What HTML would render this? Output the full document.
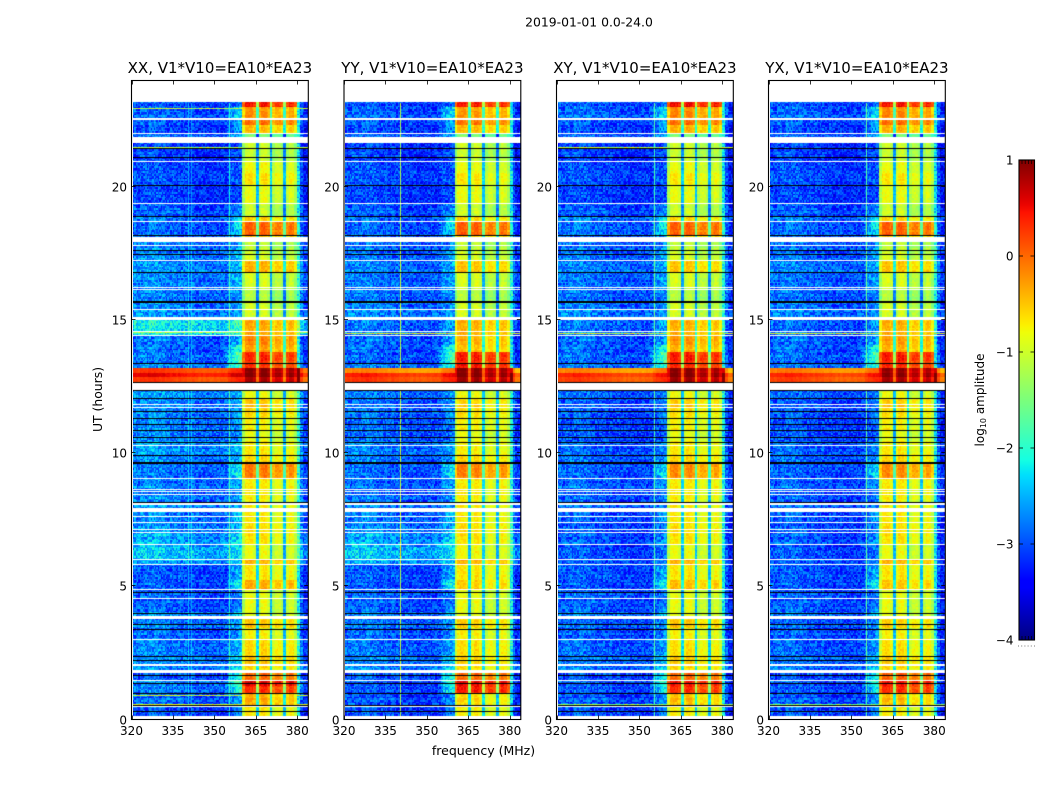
<!DOCTYPE html>
<html lang="en">
<head>
<meta charset="utf-8">
<title>2019-01-01 0.0-24.0</title>
<style>
html,body{margin:0;padding:0;background:#fff;}
#chart{position:relative;width:1050px;height:800px;overflow:hidden;background:#fff;}
#chart canvas{position:absolute;display:block;}
#overlay{position:absolute;left:0;top:0;}
text{font-family:"DejaVu Sans","Liberation Sans",sans-serif;fill:#000;}
</style>
</head>
<body>
<div id="chart">
<svg id="overlay" width="1050" height="800" viewBox="0 0 1050 800">
<defs>
<linearGradient id="jet" x1="0" y1="1" x2="0" y2="0"></linearGradient>
</defs>
<text x="589" y="26.5" font-size="12.4" text-anchor="middle">2019-01-01 0.0-24.0</text>
<text x="483.5" y="755" font-size="12.5" text-anchor="middle">frequency (MHz)</text>
<text transform="translate(102 399.5) rotate(-90)" font-size="12.4" text-anchor="middle">UT (hours)</text>
<text transform="translate(984 400) rotate(-90)" font-size="12" text-anchor="middle">log<tspan font-size="8" dy="2">10</tspan><tspan dy="-2"> amplitude</tspan></text>
</svg>
</div>
<script>
// ---- axis ticks and labels ----
const panelNames = ["XX", "YY", "XY", "YX"];
const baselineLabel = "V1*V10=EA10*EA23";
const freqTicks = [320, 335, 350, 365, 380];
const utTicks = [0, 5, 10, 15, 20];
const colorTicks = [1, 0, -1, -2, -3, -4];

// ---- time bands: top edge of each band in UT hours (each runs down to the next) ----
const bandTop = [23.18,22.99,22.50,22.33,22.02,21.65,20.93,20.55,20.08,19.39,18.9,18.67,18.19,17.92,17.62,17.25,16.8,16.16,15.71,15.0,14.43,14.06,13.8,13.38,13.2,13.04,12.82,12.37,12.1,11.69,11.36,10.9,10.45,9.96,9.67,9.07,8.43,7.79,7.41,7.0,6.55,6.02,5.8,5.24,4.86,4.56,4.0,3.77,3.4,2.98,2.42,2.01,1.75,1.45,1.26,0.99,0.54];
const dataStartUT = 0.13;

// ---- log10 amplitude outside the 360-380 MHz band, per time band ----
const offXX = [-3.1,-3.05,-3.1,-3.15,-2.95,-3.25,-3.15,-3.12,-3.2,-3.08,-2.95,-3.0,-3.0,-2.9,-2.85,-2.8,-2.85,-2.9,-2.85,-2.3,-3.0,-3.0,-2.95,-2.8,0.1,0.4,0.1,-2.75,-2.85,-2.9,-2.85,-2.9,-2.75,-2.85,-2.95,-2.9,-2.85,-2.85,-2.8,-2.7,-2.55,-2.7,-3.1,-3.1,-3.05,-3.1,-2.8,-2.9,-3.05,-2.9,-2.85,-2.8,-3.05,-2.85,-2.9,-3.05,-3.15];
const offYY = [-3.1,-3.05,-3.1,-3.15,-3.0,-3.25,-3.15,-3.12,-3.2,-3.1,-3.0,-3.02,-3.05,-3.0,-2.95,-2.9,-2.95,-2.95,-2.9,-2.95,-3.05,-3.05,-3.05,-2.9,-0.3,0.25,0.1,-2.9,-3.0,-3.0,-3.0,-3.05,-2.9,-2.95,-3.02,-3.0,-2.95,-2.9,-2.85,-2.75,-2.55,-2.7,-3.1,-3.12,-3.05,-3.1,-2.9,-2.95,-3.08,-2.98,-2.9,-2.8,-3.05,-3.1,-3.1,-3.15,-3.15];
const offXY = [-3.05,-3.0,-3.1,-3.15,-3.0,-3.25,-3.15,-3.12,-3.2,-3.1,-2.9,-2.95,-3.05,-3.0,-2.95,-2.9,-2.95,-2.98,-2.92,-2.95,-3.05,-3.05,-3.0,-2.9,-0.3,0.2,0.05,-3.0,-3.08,-3.1,-3.1,-3.15,-3.05,-3.0,-3.05,-3.02,-3.05,-3.05,-3.1,-3.1,-3.1,-3.05,-3.1,-3.12,-3.05,-3.1,-2.9,-3.02,-3.12,-3.02,-2.95,-2.9,-3.1,-3.05,-3.08,-3.12,-3.15];
const offYX = [-3.08,-3.02,-3.1,-3.15,-3.0,-3.25,-3.15,-3.12,-3.2,-3.1,-2.95,-2.98,-3.05,-3.0,-2.98,-2.9,-2.98,-3.0,-2.95,-3.02,-3.05,-3.05,-3.02,-2.92,-0.25,0.2,0.05,-3.02,-3.1,-3.12,-3.12,-3.15,-3.05,-3.02,-3.08,-3.05,-3.08,-3.05,-3.1,-3.1,-3.1,-3.05,-3.1,-3.12,-3.08,-3.1,-2.92,-3.05,-3.12,-3.05,-2.98,-2.92,-3.1,-3.08,-3.1,-3.12,-3.15];

// ---- log10 amplitude inside the 360-380 MHz band, per time band ----
const onXX = [0.35,-0.35,-0.15,-0.55,-1.6,-1.15,-0.9,-0.75,-0.95,-1.15,-0.65,-0.05,-0.55,-1.2,-1.05,-0.5,-1.05,-1.25,-1.1,-0.45,-0.3,-0.4,0.25,0.2,0.85,0.9,0.7,-0.95,-0.6,-0.7,-0.85,-1.0,-0.8,-0.7,-0.2,-0.8,-0.85,-0.8,-0.75,-0.8,-0.95,-0.5,-0.8,-0.45,-1.0,-1.0,-1.0,-0.6,-0.9,-0.7,-0.6,-0.7,-0.1,0.5,0.2,-0.5,-0.8];
const onYY = [0.3,-0.4,-0.2,-0.55,-1.6,-1.15,-0.95,-0.8,-0.95,-1.15,-0.7,-0.05,-0.6,-1.2,-1.05,-0.6,-1.05,-1.25,-1.1,-0.5,-0.55,-0.6,0.3,0.35,0.85,0.9,0.75,-0.95,-0.7,-0.75,-0.85,-1.0,-0.85,-0.7,-0.25,-0.8,-0.85,-0.8,-0.75,-0.8,-0.9,-0.5,-0.8,-0.65,-1.0,-1.0,-1.0,-0.65,-0.9,-0.75,-0.7,-0.75,-0.1,0.45,0.3,-0.75,-0.85];
const onXY = [0.4,-0.3,-0.15,-0.5,-1.6,-1.15,-0.95,-0.8,-0.95,-1.15,-0.7,-0.05,-0.6,-1.2,-1.05,-0.6,-1.05,-1.25,-1.1,-0.5,-0.4,-0.5,0.3,0.25,0.85,0.9,0.75,-0.95,-0.65,-0.75,-0.85,-1.0,-0.8,-0.7,-0.3,-0.8,-0.85,-0.8,-0.75,-0.8,-0.95,-0.5,-0.8,-0.55,-1.0,-1.0,-1.0,-0.6,-0.9,-0.75,-0.65,-0.7,-0.1,0.35,0.2,-0.6,-0.85];
const onYX = [0.35,-0.3,-0.15,-0.5,-1.6,-1.15,-0.95,-0.8,-0.95,-1.15,-0.7,-0.05,-0.6,-1.2,-1.05,-0.6,-1.05,-1.25,-1.1,-0.5,-0.45,-0.5,0.3,0.25,0.8,0.85,0.7,-0.95,-0.65,-0.75,-0.85,-1.0,-0.8,-0.7,-0.3,-0.8,-0.85,-0.8,-0.75,-0.8,-0.95,-0.5,-0.8,-0.6,-1.0,-1.0,-1.0,-0.65,-0.9,-0.75,-0.65,-0.7,-0.05,0.35,0.2,-0.6,-0.85];

// ---- extra rise just below 360 MHz, per time band ----
const shoulder = [0.3,0.8,0.5,0.5,0.5,0.2,0.2,0.2,0.2,0.4,0.6,0.7,0.5,0.3,0.4,0.4,0.4,0.3,0.3,0.4,0.5,0.9,1.3,1,0,0,0,0.3,0.4,0.3,0.2,0.2,0.3,0.3,0.8,0.4,0.3,0.4,0.4,0.4,0.3,0.4,0.6,1.0,0.3,0.3,0.4,0.4,0.4,0.4,0.6,0.5,1.0,1.2,1.0,0.5,0.3];

// ---- channel profiles (1 MHz bins, drawn on a 0.5 MHz grid) ----
const channelStart = 320;
const channelEnd = 384;
const channelStep = 0.5;
const lowChannelTrim = [0.1,0.15,0.1,0.2,0.2,0.15,0.25,0.2,0.25,0.2,0.15,0.2,0.1,0.15,0.1,0.1,0.05,0.1,0.05,0.05,0,0,0.05,0,-0.05,0,-0.05,0,-0.05,-0.05,0,-0.05,0,0,-0.05,0,0.05,0,0,0];
const bandChannelTrim = [-0.35,0.05,0.1,0.1,-0.05,-1.6,-0.1,0.1,0.1,-0.05,-1.4,-0.15,0.05,0.05,-0.1,-1.6,-0.1,0.1,0.05,-0.25];
const highChannelTrim = [0.9,0.1,-0.2,-0.2];
const shoulderProfile = [0.2,0.4,0.6,0.8,0.9,1.0];
const blockTrim = [0.05,0.05,-0.1,-0.05];

// ---- narrow interference features ----
const whiteGaps = [[22.58,22.5],[22.04,21.98],[21.88,21.65],[20.96,20.9],[19.4,19.34],[18.72,18.66],[18.12,17.94],[17.84,17.78],[17.25,17.19],[16.25,16.19],[16.18,16.12],[15.4,15.34],[15.12,15.0],[14.59,14.53],[14.45,14.39],[12.64,12.37],[11.84,11.78],[11.72,11.66],[10.32,10.26],[9.08,9.02],[8.64,8.58],[8.57,8.51],[8.46,8.4],[8.15,8.07],[7.95,7.79],[7.64,7.58],[7.43,7.37],[7.14,7.08],[7.03,6.97],[6.59,6.53],[6.01,5.94],[5.84,5.77],[4.89,4.83],[4.58,4.52],[3.87,3.78],[3.01,2.95],[2.09,2.0],[1.85,1.75],[1.48,1.42],[0.49,0.43]];
const blackLines = [21.46,21.14,20.08,18.91,18.19,17.62,17.47,16.79,15.71,13.39,12.66,12.36,12.08,11.59,11.33,11.09,10.89,10.62,10.43,9.94,9.67,8.16,7.65,4.79,3.99,3.57,3.41,2.39,2.23,1.67,1.36,0.98,0.54,0.32];
const thickBlackLines = [15.71,9.67];
const rfiXX = [[22.95,-1.1],[21.5,-1.2],[14.55,-1.3],[0.92,-1.0],[0.58,-0.9]];
const rfiYY = [[14.5,-0.9]];
const rfiXY = [[21.5,-1.1],[14.5,-1.0],[0.58,-1.4]];
const rfiYX = [[14.5,-1.0],[0.58,-1.5]];
const spursXX = [[340,0.6],[341,0.5],[355,1.0]];
const spursYY = [[340,1.9],[335,0.3]];
const spursXY = [[355,1.3]];
const spursYX = [[355,1.4]];

// ---- fixed speckle texture (visual grain, not measured values) ----
const grain = [0.21,-0.33,0.08,-0.14,0.29,-0.27,0.02,0.34,-0.08,-0.31,0.17,-0.02,0.25,-0.19,-0.35,0.11,0.31,-0.11,0.05,-0.25,0.19,-0.06,0.33,-0.29,0.13,-0.17,0.01,0.27,-0.34,0.09,-0.04,0.23,-0.21,0.15,-0.3,0.32,-0.12,0.03,-0.23,0.18,0.35,-0.09,-0.28,0.07,0.24,-0.16,-0.01,0.3,-0.36,0.12,-0.07,0.2,-0.24,0.04,0.28,-0.13,-0.32,0.16,-0.03,0.22,-0.2];
const stripes = [0.1,-0.12,0.22,0.02,-0.18,0.3,-0.05,0.12,-0.22,0.06,0.26,-0.14,-0.02,0.18,-0.26,0.08,0.14,-0.08,0.24,-0.16,0.0,0.2,-0.1];

const offByPanel = [offXX, offYY, offXY, offYX];
const onByPanel = [onXX, onYY, onXY, onYX];
const rfiByPanel = [rfiXX, rfiYY, rfiXY, rfiYX];
const spursByPanel = [spursXX, spursYY, spursXY, spursYX];

// ---- geometry ----
const panelLeft = [131.5, 344, 556.5, 768.5];
const panelWidth = 176.8;
const plotTop = 80.5;
const plotBottom = 719.5;
const freqMin = 320, freqMax = 384, utMin = 0, utMax = 24;
const cbarLeft = 1019, cbarRight = 1034.5, cbarTop = 160, cbarBottom = 640;
const vMin = -4, vMax = 1;

function xScale(f, p) { return panelLeft[p] + (f - freqMin) / (freqMax - freqMin) * panelWidth; }
function yScale(t) { return plotBottom - (t - utMin) / (utMax - utMin) * (plotBottom - plotTop); }
function cScale(v) { return cbarBottom - (v - vMin) / (vMax - vMin) * (cbarBottom - cbarTop); }

// matplotlib "jet" anchor points
const jetR = [[0,0],[0.35,0],[0.66,1],[0.89,1],[1,0.5]];
const jetG = [[0,0],[0.125,0],[0.375,1],[0.64,1],[0.91,0],[1,0]];
const jetB = [[0,0.5],[0.11,1],[0.34,1],[0.65,0],[1,0]];
function lerpAnchors(a, t) {
  for (let i = 1; i < a.length; i++) {
    if (t <= a[i][0]) return a[i-1][1] + (a[i][1] - a[i-1][1]) * (t - a[i-1][0]) / (a[i][0] - a[i-1][0]);
  }
  return a[a.length-1][1];
}
function jet(v) {
  const t = Math.max(0, Math.min(1, (v - vMin) / (vMax - vMin)));
  return "rgb(" + Math.round(255*lerpAnchors(jetR,t)) + "," + Math.round(255*lerpAnchors(jetG,t)) + "," + Math.round(255*lerpAnchors(jetB,t)) + ")";
}

function bandAt(t) {
  for (let i = bandTop.length - 1; i >= 0; i--) { if (t <= bandTop[i] && (i === bandTop.length - 1 || t > bandTop[i+1])) return i; }
  return -1;
}

function cellValue(p, band, ch, row) {
  const off = offByPanel[p][band], on = onByPanel[p][band];
  const g = grain[(ch*ch*7 + ch*31 + row*row*13 + row*53 + ch*row*3) % grain.length];
  const s = stripes[row % stripes.length];
  const f = Math.floor(channelStart + ch * channelStep);
  if (f >= 360 && f < 380) {
    const block = Math.floor((f - 360) / 5);
    const hotBand = on >= 0.6;
    const h = hotBand ? 0.12 : 0.4;
    const trim = bandChannelTrim[f-360];
    return on + (hotBand && trim < -1 ? trim * 0.5 : trim) + blockTrim[block] + g*h + s*0.2;
  }
  const hot = off > -1;
  let v = off;
  if (f < 360) {
    v += lowChannelTrim[f-320];
    if (f >= 354) v += (hot ? 0.3 : shoulder[band]) * shoulderProfile[f-354];
    if (f < 350 && !hot) v += s*0.35;
    else if (!hot) v += s*0.15;
  } else {
    v += highChannelTrim[f-380];
  }
  return v + g*(hot ? 0.15 : 1.2);
}

const rowStep = 0.06;
const chart = document.getElementById("chart");
const svg = document.getElementById("overlay");
const NS = "http://www.w3.org/2000/svg";

function drawHeatmap(p) {
  const x0 = Math.round(panelLeft[p]) + 1;
  const x1 = Math.round(panelLeft[p] + panelWidth);
  const cv = document.createElement("canvas");
  
  
  cv.width = x1 - x0;
  cv.height = Math.round(plotBottom - plotTop);
  cv.style.left = x0 + "px";
  cv.style.top = Math.round(plotTop) + "px";
  chart.insertBefore(cv, svg);
  const ctx = cv.getContext("2d");
  const oy = Math.round(plotTop);
  const px = f => Math.min(x1, Math.max(x0, Math.round(xScale(f, p)))) - x0;
  const py = t => Math.round(yScale(t)) - oy;
  const nRows = Math.ceil((bandTop[0] - dataStartUT) / rowStep);
  const nCh = Math.round((channelEnd - channelStart) / channelStep);
  for (let r = 0; r < nRows; r++) {
    const tLo = dataStartUT + r * rowStep, tHi = Math.min(bandTop[0], tLo + rowStep);
    const band = bandAt((tLo + tHi) / 2);
    if (band < 0) continue;
    for (let ch = 0; ch < nCh; ch++) {
      const f = channelStart + ch * channelStep;
      ctx.fillStyle = jet(cellValue(p, band, ch, r));
      const a = px(f), b = px(f + channelStep);
      ctx.fillRect(a, py(tHi), b - a, py(tLo) - py(tHi));
    }
  }
  // narrow-band spurs: thin vertical lines outside the band
  spursByPanel[p].forEach(function (sp) {
    for (let r = 0; r < nRows; r++) {
      const tLo = dataStartUT + r * rowStep, tHi = tLo + rowStep;
      const band = bandAt((tLo + tHi) / 2);
      if (band < 0 || offByPanel[p][band] > -1) continue;
      ctx.fillStyle = jet(offByPanel[p][band] + sp[1] + grain[r % grain.length] * 0.4);
      ctx.fillRect(px(sp[0]) + 1, py(tHi), 1, py(tLo) - py(tHi));
    }
  });
  // broadband interference rows
  rfiByPanel[p].forEach(function (line) {
    const y = py(line[0]);
    for (let ch = 0; ch < nCh; ch++) {
      const f = channelStart + ch * channelStep;
      if (f >= 360 && f < 380) continue;
      ctx.fillStyle = jet(line[1] + grain[(ch*13) % grain.length] * 1.5);
      ctx.fillRect(px(f), y, px(f + channelStep) - px(f), 1);
    }
  });
  // flagged rows
  ctx.fillStyle = "#000";
  blackLines.forEach(function (t) {
    const h = thickBlackLines.indexOf(t) >= 0 ? 2 : 1;
    ctx.fillRect(0, py(t), cv.width, h);
  });
  ctx.fillStyle = "#fff";
  whiteGaps.forEach(function (g) {
    const a = py(g[0]), b = py(g[1]);
    const h = (g[0] - g[1]) < 0.075 ? 1 : Math.max(1, b - a);
    ctx.fillRect(0, a, cv.width, h);
  });
}

function makeLine(x1, y1, x2, y2, width) {
  const l = document.createElementNS(NS, "line");
  l.setAttribute("x1", x1); l.setAttribute("y1", y1);
  l.setAttribute("x2", x2); l.setAttribute("y2", y2);
  l.setAttribute("stroke", "#000");
  l.setAttribute("stroke-width", width);
  svg.appendChild(l);
  return l;
}
function makeText(x, y, size, anchor, str) {
  const t = document.createElementNS(NS, "text");
  t.setAttribute("x", x); t.setAttribute("y", y);
  t.setAttribute("font-size", size);
  t.setAttribute("text-anchor", anchor);
  t.textContent = str;
  svg.appendChild(t);
  return t;
}

function drawAxes(p) {
  const left = panelLeft[p], right = left + panelWidth;
  const pname = panelNames[p].toLowerCase();
  freqTicks.forEach(function (f) {
    const x = Math.round(xScale(f, p)) + 0.5;
    const bt = makeLine(x, plotBottom, x, plotBottom - 4, 0.8);
    
    
    const tt = makeLine(x, plotTop, x, plotTop + 4, 0.8);
    
    
    const lab = makeText(xScale(f, p), 735, 12, "middle", String(f));
    
    
  });
  utTicks.forEach(function (t) {
    const y = Math.round(yScale(t)) - 0.5;
    const lt = makeLine(left, y, left + 4, y, 0.8);
    
    
    const rt = makeLine(right, y, right - 4, y, 0.8);
    
    
    const lab = makeText(left - 4.5, y + 5, 12, "end", String(t));
    
    
  });
  const frame = document.createElementNS(NS, "rect");
  frame.setAttribute("x", left); frame.setAttribute("y", plotTop);
  frame.setAttribute("width", panelWidth); frame.setAttribute("height", plotBottom - plotTop);
  frame.setAttribute("fill", "none"); frame.setAttribute("stroke", "#000"); frame.setAttribute("stroke-width", 1.1);
  
  
  svg.appendChild(frame);
  const title = makeText(left + panelWidth / 2, 73, 15, "middle", panelNames[p] + ", " + baselineLabel);
  
  
}

function drawColorbar() {
  const grad = document.getElementById("jet");
  for (let i = 0; i <= 64; i++) {
    const st = document.createElementNS(NS, "stop");
    st.setAttribute("offset", (i / 64));
    st.setAttribute("stop-color", jet(vMin + (vMax - vMin) * i / 64));
    grad.appendChild(st);
  }
  const bar = document.createElementNS(NS, "rect");
  bar.setAttribute("x", cbarLeft); bar.setAttribute("y", cbarTop);
  bar.setAttribute("width", cbarRight - cbarLeft); bar.setAttribute("height", cbarBottom - cbarTop);
  bar.setAttribute("fill", "url(#jet)"); bar.setAttribute("stroke", "#000"); bar.setAttribute("stroke-width", 1.1);
  
  
  svg.appendChild(bar);
  colorTicks.forEach(function (v) {
    const y = cScale(v);
    const a = makeLine(cbarLeft, y, cbarLeft + 4, y, 0.8);
    
    
    const b = makeLine(cbarRight, y, cbarRight - 4, y, 0.8);
    
    
    const lab = makeText(1013.5, y + 4.5, 12, "end", v < 0 ? "\u2212" + Math.abs(v) : String(v));
    
    
  });
  // tiny artefact ticks at the ends of the colorbar
  for (let i = 0; i < 4; i++) {
    const x = cbarLeft + 3 + i * 3.2;
    const u = makeLine(x, cbarTop, x, cbarTop + 4, 0.7);
    
    
    const d = makeLine(x, cbarBottom, x, cbarBottom - 4, 0.7);
    
    
  }
  for (let i = 0; i < 6; i++) {
    const dot = document.createElementNS(NS, "rect");
    dot.setAttribute("x", 1018 + i * 3.2); dot.setAttribute("y", 645.5);
    dot.setAttribute("width", 1); dot.setAttribute("height", 1);
    dot.setAttribute("fill", "#777");
    
    
    svg.appendChild(dot);
  }
}

for (let p = 0; p < 4; p++) { drawHeatmap(p); drawAxes(p); }
drawColorbar();
</script>
</body>
</html>
